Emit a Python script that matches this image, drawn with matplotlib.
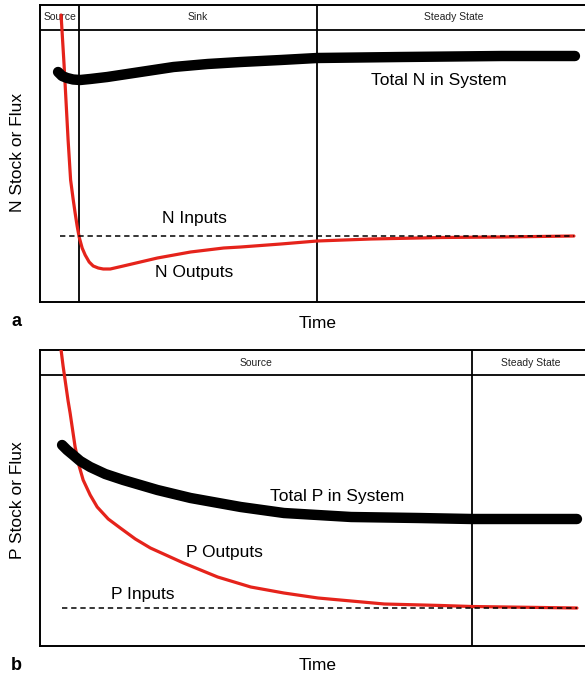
import numpy as np
import matplotlib.pyplot as plt

plt.rcParams['font.family'] = ['Liberation Sans', 'DejaVu Sans']

# panel a (N) -- time and values in picture units
n_total_t = [18, 22, 27, 33, 40, 50, 67, 100, 133, 167, 200, 240, 276, 360, 460, 533]
n_total_v = [230, 226, 224, 222.5, 222, 223, 225, 230, 235, 238, 240, 242, 244, 245, 246, 246]
n_out_t = [21, 24, 28, 30.5, 33, 35, 37, 39, 42, 45, 49, 53, 58, 63, 70, 83, 100, 117, 150,
           183, 200, 240, 276, 330, 400, 460, 532]
n_out_v = [287, 237, 162, 122, 103, 89, 76, 65, 54, 47, 40, 36, 34, 33, 33, 36, 40, 44, 50,
           54, 55, 58, 61, 63, 64.5, 65, 66]
n_in_t = [20, 532]
n_in_v = [66, 66]
n_bounds = [39, 276]
n_phases = ['Source', 'Sink', 'Steady State']

# panel b (P)
p_total_t = [22, 27, 33, 40, 50, 65, 83, 100, 117, 150, 200, 243, 310, 377, 430, 535]
p_total_v = [201, 196, 191, 185, 179, 172, 166, 161, 156, 148, 139, 133, 129, 128, 127, 127]
p_out_t = [21, 23, 25, 28, 30, 35, 39, 43, 50, 57, 68, 80, 95, 110, 143, 177, 210, 243, 277,
           343, 400, 430, 535]
p_out_v = [296, 280, 266, 245, 233, 199, 180, 166, 151, 139, 127, 118, 107, 98, 83, 69, 59,
           53, 48, 42, 40.5, 39.5, 38]
p_in_t = [22, 535]
p_in_v = [38, 38]
p_bounds = [430]
p_phases = ['Source', 'Steady State']

RED = '#e5231b'


def panel(rect, total_t, total_v, out_t, out_v, in_t, in_v, bounds, phases, ylim):
    ax = fig.add_axes(rect)
    ax.set_xlim(0, 550)
    ax.set_ylim(0, ylim)
    ax.set_xticks([])
    ax.set_yticks([])
    for s in ax.spines.values():
        s.set_linewidth(1.4)
    head = ylim - 25
    ax.axhline(head, color='black', lw=1.3)
    for b in bounds:
        ax.axvline(b, color='black', lw=1.3)
    edges = [0] + bounds + [550]
    for i, name in enumerate(phases):
        right = edges[i + 1] if i + 1 < len(edges) - 1 else 548
        ax.text((edges[i] + right) / 2, head + 12.5, name, ha='center', va='center',
                fontsize=7.5, color='#222222')
    ax.plot(out_t, out_v, color=RED, lw=2.3, solid_capstyle='round',
            solid_joinstyle='round', zorder=3)
    ax.plot(in_t, in_v, color='black', lw=1.1, ls=(0, (3.5, 2.5)), zorder=4)
    ax.plot(total_t, total_v, color='black', lw=7.5, solid_capstyle='round',
            solid_joinstyle='round', zorder=5)
    return ax


fig = plt.figure(figsize=(5.85, 6.8), dpi=100)

ax1 = panel([40 / 585, 378 / 680, 552 / 585, 297 / 680], n_total_t, n_total_v,
            n_out_t, n_out_v, n_in_t, n_in_v, n_bounds, n_phases, 297)
ax1.text(397, 222, 'Total N in System', ha='center', va='center', fontsize=12.5)
ax1.text(154, 84, 'N Inputs', ha='center', va='center', fontsize=12.5)
ax1.text(154, 30, 'N Outputs', ha='center', va='center', fontsize=12.5)

ax2 = panel([40 / 585, 34 / 680, 552 / 585, 296 / 680], p_total_t, p_total_v,
            p_out_t, p_out_v, p_in_t, p_in_v, p_bounds, p_phases, 296)
ax2.text(296, 149, 'Total P in System', ha='center', va='center', fontsize=12.5)
ax2.text(184, 93, 'P Outputs', ha='center', va='center', fontsize=12.5)
ax2.text(102, 52, 'P Inputs', ha='center', va='center', fontsize=12.5)

fig.text(18 / 585, 1 - 152 / 680, 'N Stock or Flux', rotation=90, ha='center', va='center', fontsize=12.5)
fig.text(18 / 585, 1 - 500 / 680, 'P Stock or Flux', rotation=90, ha='center', va='center', fontsize=12.5)
fig.text(318 / 585, 1 - 323 / 680, 'Time', ha='center', va='center', fontsize=12.5)
fig.text(318 / 585, 1 - 666 / 680, 'Time', ha='center', va='center', fontsize=12.5)
fig.text(16 / 585, 1 - 322 / 680, 'a', ha='center', va='center', fontsize=13, fontweight='bold')
fig.text(16 / 585, 1 - 665 / 680, 'b', ha='center', va='center', fontsize=13, fontweight='bold')

fig.savefig('out.png', dpi=100)
